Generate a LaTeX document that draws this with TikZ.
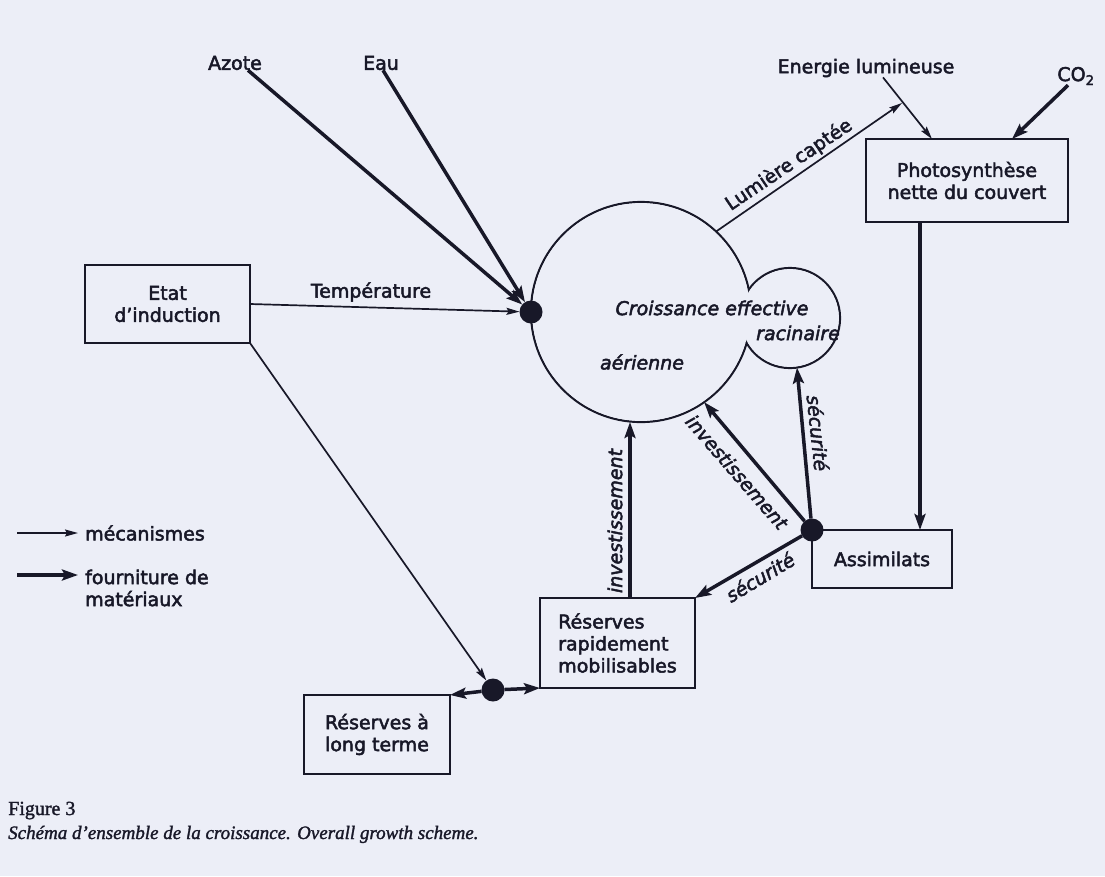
\documentclass[tikz,border=0pt]{standalone}
\usepackage{fontspec}
\setmainfont{DejaVu Sans}
\newfontfamily\dfont{DejaVu Sans}[FakeBold=2.5]
\newfontfamily\capfont{Liberation Serif}[FakeBold=1.5]
\usetikzlibrary{arrows.meta,calc}
\definecolor{bg}{HTML}{ECEEF7}
\definecolor{ink}{HTML}{181828}
\begin{document}
\begin{tikzpicture}[x=1pt,y=-1pt,
  every node/.style={text=ink, font=\dfont\fontsize{19}{22}\selectfont},
  box/.style={draw=ink, line width=2.4pt, inner sep=0pt, outer sep=0pt, align=center},
  dot/.style={circle, fill=ink, inner sep=0pt, minimum size=23pt, outer sep=0pt},
  blob/.style={circle, draw=ink, line width=2.2pt, inner sep=0pt, outer sep=0pt},
  mech/.style={draw=ink, line width=1.7pt, -{Stealth[length=13pt,width=7pt,inset=2pt]}},
  supply/.style={draw=ink, line width=3.5pt, -{Stealth[length=16pt,width=11pt,inset=3pt]}},
  lbl/.style={inner sep=0pt},
  ital/.style={inner sep=0pt, font=\dfont\fontsize{19}{22}\selectfont\itshape},
]
\fill[bg] (0,0) rectangle (1105,876);
\useasboundingbox (0,0) rectangle (1105,876);

% growth blob
\node[blob, minimum size=220pt] (big) at (641,312) {};
\node[blob, minimum size=100pt] (small) at (790,318) {};
\fill[bg] (big.center) circle (108.9pt);
\fill[bg] (small.center) circle (48.9pt);
\node[ital] (croiss) at (712,308) {Croissance effective};
\node[ital] (racin) at (798,333) {racinaire};
\node[ital] (aer) at (642,362) {aérienne};

% dots
\node[dot] (dot1) at (big.west) {};
\node[dot] (dot2) at (493,690) {};

% boxes
\node[box, minimum width=165pt, minimum height=78pt] (etat) at (167.5,304) {Etat\\d’induction};
\node[box, minimum width=202pt, minimum height=83pt] (photo) at (967,180.5) {Photosynthèse\\nette du couvert};
\node[box, minimum width=140pt, minimum height=58pt] (assim) at (882,559) {Assimilats};
\node[box, minimum width=155pt, minimum height=90pt, align=left] (rapid) at (617.5,643) {Réserves\\rapidement\\mobilisables};
\node[box, minimum width=146pt, minimum height=79pt] (longt) at (377,734.5) {Réserves à\\long terme};
\node[dot] (dot3) at (assim.north west) {};

% input labels
\node[lbl] (azote) at (235,63) {Azote};
\node[lbl] (eau) at (381,63) {Eau};
\node[lbl] (temp) at (371,292) {Température};
\node[lbl] (energie) at (866,68) {Energie lumineuse};
\node[lbl] (co2) at (1076,76) {CO\textsubscript{2}};
\coordinate (lumEnd) at (902,103);

% connectors
\draw[supply] ([xshift=13pt]azote.south) -- (dot1);
\draw[supply] ([xshift=2pt]eau.south) -- (dot1);
\draw[mech] (etat.east) -- (dot1);
\draw[mech] (etat.south east) -- (dot2);
\draw[supply] (dot2) -- (longt.north east);
\draw[supply] (dot2) -- (rapid.south west);
\draw[mech] (big.47.5) -- (lumEnd);
\draw[mech] ([xshift=17pt]energie.south) -- ([xshift=-35pt]photo.north);
\draw[supply] ([xshift=-8pt]co2.south) -- ([xshift=45pt]photo.north);
\draw[supply] ([xshift=-47pt]photo.south) -- ([xshift=-47pt]photo.south |- assim.north);
\draw[supply] ([xshift=12.5pt]rapid.north) -- ([xshift=12.5pt]rapid.north |- big.south);
\draw[supply] (dot3) -- (big.-55);
\draw[supply] (dot3) -- (small.-82);
\draw[supply] (dot3) -- (rapid.north east);

% connector labels
\node[lbl, rotate=34] (lumlbl) at (789,165) {Lumière captée};
\node[ital, rotate=90] (inv1) at (615,521) {investissement};
\node[ital, rotate=-49] (inv2) at (737,472) {investissement};
\node[ital, rotate=-84] (sec1) at (818,433) {sécurité};
\node[ital, rotate=31] (sec2) at (760,577) {sécurité};

% legend
\node[lbl, anchor=west] (lgA) at (85,533) {mécanismes};
\node[lbl, anchor=west, align=left] (lgB) at (85,588) {fourniture de\\matériaux};
\draw[mech] (17,533) -- (78,533);
\draw[supply] (17,575) -- (78,575);

% caption
\node[lbl, anchor=base west, font=\capfont\fontsize{20}{22}\selectfont] (fig) at (8,815) {Figure 3};
\node[lbl, anchor=base west, font=\capfont\itshape\fontsize{19}{22}\selectfont] (cap) at (8,839) {Schéma d’ensemble de la croissance. Overall growth scheme.};
\end{tikzpicture}
\end{document}
